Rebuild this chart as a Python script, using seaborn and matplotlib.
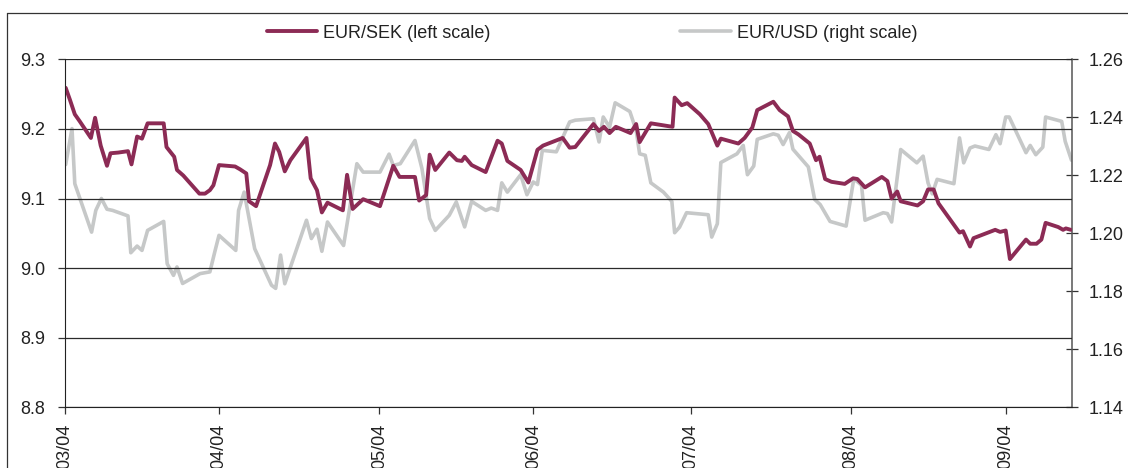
"""
EUR/SEK (left scale) vs EUR/USD (right scale), daily, 03/04 - 09/04.
"""

import numpy as np
import matplotlib
matplotlib.use("Agg")
import matplotlib.pyplot as plt
from matplotlib.lines import Line2D
import seaborn as sns

# x = trading day since start of series
sek_day = [0.1, 0.7, 1.4, 2.1, 2.9, 3.7, 4.3, 4.6, 5.1, 6.0, 6.5, 7.6, 9.0, 9.5,
           10.3, 11.0, 11.8, 14.1, 14.5, 15.6, 16.0, 16.9, 19.2, 20.0, 20.7, 21.2,
           22.0, 24.3, 25.0, 25.9, 26.3, 27.3, 29.3, 30.0, 30.6, 31.4, 32.2, 34.5,
           35.1, 36.0, 36.7, 37.5, 39.7, 40.3, 41.1, 42.6, 45.0, 46.9, 47.8, 50.0,
           50.6, 51.6, 52.1, 52.9, 54.9, 56.0, 56.7, 57.1, 58.1, 60.1, 61.8, 62.4,
           63.2, 65.1, 66.2, 67.5, 68.3, 71.1, 72.1, 72.9, 75.5, 76.3, 77.0, 77.8,
           78.7, 80.8, 81.6, 82.1, 83.7, 86.8, 87.1, 88.1, 88.9, 90.7, 91.9, 93.2,
           93.7, 96.2, 97.1, 98.2, 98.9, 101.2, 102.1, 103.3, 104.0, 104.8, 106.4,
           107.3, 107.8, 108.6, 109.5, 111.4, 112.6, 113.2, 114.3, 116.7, 117.5,
           118.1, 118.9, 119.4, 121.8, 122.6, 123.3, 124.1, 124.8, 127.8, 128.3,
           129.3, 129.8, 132.9, 133.6, 134.4, 135.0, 137.3, 137.9, 138.8, 139.5,
           140.1, 141.9, 142.6, 143.0, 143.7]
sek_rate = [9.259, 9.242, 9.221, 9.211, 9.199, 9.187, 9.216, 9.201, 9.176, 9.147,
            9.165, 9.166, 9.168, 9.149, 9.189, 9.186, 9.208, 9.208, 9.174, 9.160,
            9.141, 9.133, 9.107, 9.107, 9.112, 9.119, 9.148, 9.146, 9.142, 9.136,
            9.096, 9.089, 9.148, 9.179, 9.167, 9.139, 9.155, 9.187, 9.129, 9.112,
            9.080, 9.094, 9.083, 9.134, 9.085, 9.099, 9.089, 9.147, 9.131, 9.131,
            9.097, 9.105, 9.163, 9.141, 9.166, 9.155, 9.154, 9.160, 9.148, 9.138,
            9.183, 9.179, 9.154, 9.141, 9.123, 9.170, 9.176, 9.187, 9.173, 9.174,
            9.207, 9.197, 9.203, 9.194, 9.203, 9.194, 9.207, 9.181, 9.208, 9.203,
            9.245, 9.234, 9.237, 9.221, 9.207, 9.176, 9.186, 9.179, 9.187, 9.202,
            9.227, 9.239, 9.227, 9.218, 9.197, 9.192, 9.179, 9.155, 9.160, 9.128,
            9.124, 9.121, 9.129, 9.128, 9.116, 9.131, 9.125, 9.100, 9.110, 9.096,
            9.090, 9.096, 9.113, 9.113, 9.093, 9.051, 9.053, 9.031, 9.043, 9.055,
            9.052, 9.054, 9.013, 9.041, 9.035, 9.035, 9.041, 9.065, 9.059, 9.055,
            9.057, 9.055]

usd_day = [0.1, 1.0, 1.4, 3.8, 4.4, 5.2, 6.0, 6.8, 9.0, 9.4, 10.3, 11.0, 11.8,
           14.1, 14.6, 15.5, 16.0, 16.8, 19.3, 20.7, 21.4, 22.0, 24.4, 24.8, 25.6,
           26.4, 27.1, 29.5, 30.1, 30.8, 31.4, 34.5, 35.2, 36.0, 36.7, 37.5, 39.8,
           41.7, 42.6, 45.0, 46.3, 46.9, 47.9, 50.0, 51.0, 52.1, 52.9, 54.9, 55.9,
           57.1, 58.1, 60.1, 60.9, 61.8, 62.4, 63.2, 65.1, 66.0, 66.9, 67.5, 68.2,
           70.2, 72.1, 72.9, 75.5, 76.3, 76.9, 77.8, 78.6, 80.7, 81.6, 82.1, 82.9,
           83.7, 85.5, 86.7, 87.1, 87.8, 88.8, 91.9, 92.4, 93.2, 93.7, 96.0, 96.9,
           97.5, 98.4, 98.9, 101.2, 101.9, 102.6, 103.5, 104.0, 106.2, 107.1, 107.9,
           109.3, 111.6, 112.7, 113.8, 114.3, 116.9, 117.5, 118.1, 119.4, 121.7,
           122.6, 123.3, 123.9, 124.6, 127.0, 127.8, 128.4, 129.3, 130.0, 132.0,
           133.0, 133.6, 134.4, 134.9, 137.3, 137.9, 138.7, 139.7, 140.1, 142.4,
           142.9, 143.8]
usd_rate = [1.2237, 1.2361, 1.2171, 1.2004, 1.2079, 1.2120, 1.2083, 1.2079, 1.2060,
            1.1933, 1.1956, 1.1941, 1.2010, 1.2041, 1.1895, 1.1855, 1.1884, 1.1827,
            1.1861, 1.1867, 1.1936, 1.1993, 1.1941, 1.2079, 1.2142, 1.2039, 1.1947,
            1.1821, 1.1810, 1.1925, 1.1826, 1.2045, 1.1982, 1.2014, 1.1938, 1.2039,
            1.1958, 1.2240, 1.2211, 1.2211, 1.2273, 1.2234, 1.2240, 1.2320, 1.2223,
            1.2051, 1.2010, 1.2062, 1.2108, 1.2022, 1.2110, 1.2079, 1.2087, 1.2079,
            1.2174, 1.2142, 1.2202, 1.2133, 1.2177, 1.2168, 1.2286, 1.2281, 1.2384,
            1.2390, 1.2395, 1.2315, 1.2401, 1.2366, 1.2450, 1.2420, 1.2355, 1.2274,
            1.2269, 1.2174, 1.2142, 1.2110, 1.2002, 1.2021, 1.2071, 1.2064, 1.1987,
            1.2033, 1.2244, 1.2274, 1.2303, 1.2202, 1.2232, 1.2324, 1.2343, 1.2338,
            1.2306, 1.2347, 1.2290, 1.2229, 1.2117, 1.2099, 1.2041, 1.2025, 1.2188,
            1.2166, 1.2045, 1.2071, 1.2068, 1.2039, 1.2289, 1.2243, 1.2266, 1.2174,
            1.2136, 1.2186, 1.2171, 1.2329, 1.2243, 1.2294, 1.2301, 1.2289, 1.2340,
            1.2309, 1.2401, 1.2401, 1.2278, 1.2303, 1.2271, 1.2297, 1.2401, 1.2386,
            1.2317, 1.2252]

month_day = [0, 22.0, 44.9, 66.9, 89.4, 112.3, 134.4]
month_labels = ["03/04", "04/04", "05/04", "06/04", "07/04", "08/04", "09/04"]
sek_ticks = [8.8, 8.9, 9.0, 9.1, 9.2, 9.3]
usd_ticks = [1.14, 1.16, 1.18, 1.20, 1.22, 1.24, 1.26]

RED = "#8C2B55"
GREY = "#C6C8C8"
INK = "#222222"

sns.set_style("white")
plt.rcParams["font.family"] = ["Liberation Sans", "DejaVu Sans"]
FS = 13

fig = plt.figure(figsize=(11.28, 4.68), dpi=100)
W, H = 1128, 468
ax = fig.add_axes([65 / W, 1 - 407.3 / H, (1071.5 - 65) / W, (407.3 - 59.3) / H])
ax2 = ax.twinx()

sns.lineplot(x=sek_day, y=sek_rate, ax=ax, color=RED, linewidth=2.8, sort=False)
sns.lineplot(x=usd_day, y=usd_rate, ax=ax2, color=GREY, linewidth=2.6, sort=False)

# red series above the grey one
ax.set_zorder(ax2.get_zorder() + 1)
ax.patch.set_visible(False)

ax.set_xlim(0, 143.8)
ax.set_ylim(8.8, 9.3)
ax2.set_ylim(1.14, 1.26)

ax.set_yticks(sek_ticks)
ax.set_yticklabels([f"{v:.1f}" for v in sek_ticks])
ax2.set_yticks(usd_ticks)
ax2.set_yticklabels([f"{v:.2f}" for v in usd_ticks])
ax.set_xticks(month_day)
ax.set_xticklabels(month_labels, rotation=90)

ax.grid(False)
ax2.grid(False)
ax.yaxis.grid(True, color="#2b2b2b", linewidth=0.9)
ax.set_xlabel("")
ax.set_ylabel("")
ax2.set_ylabel("")

for s in ["top", "right"]:
    ax.spines[s].set_visible(False)
for s in ["top", "left", "bottom"]:
    ax2.spines[s].set_visible(False)
ax.spines["left"].set_color("#222222")
ax.spines["bottom"].set_color("#222222")
ax2.spines["right"].set_color("#555555")
ax2.spines["right"].set_linewidth(1.1)

ax.tick_params(axis="y", direction="out", length=5, width=0.9, color="#333333",
               labelsize=FS, labelcolor=INK, pad=9, left=True)
ax.tick_params(axis="x", direction="out", length=5, width=0.9, color="#333333",
               labelsize=FS, labelcolor=INK, pad=7, bottom=True)
ax2.tick_params(axis="y", direction="inout", length=9, width=0.9, color="#333333",
                labelsize=FS, labelcolor=INK, pad=8, right=True)

handles = [Line2D([], [], color=RED, linewidth=2.8),
           Line2D([], [], color=GREY, linewidth=2.6)]
fig.legend(handles, ["EUR/SEK (left scale)", "EUR/USD (right scale)"],
           loc="center", bbox_to_anchor=(0.525, 1 - 33 / H), ncol=2,
           frameon=False, fontsize=FS, handlelength=2.8, handletextpad=0.35,
           columnspacing=10.5, labelcolor=INK)

# outer frame of the exhibit
fig.add_artist(Line2D([7 / W, 1], [1 - 13 / H] * 2, color="#333333", linewidth=0.9))
fig.add_artist(Line2D([7 / W] * 2, [0, 1 - 13 / H], color="#333333", linewidth=0.9))

fig.savefig("out.png", dpi=100)
plt.close(fig)
